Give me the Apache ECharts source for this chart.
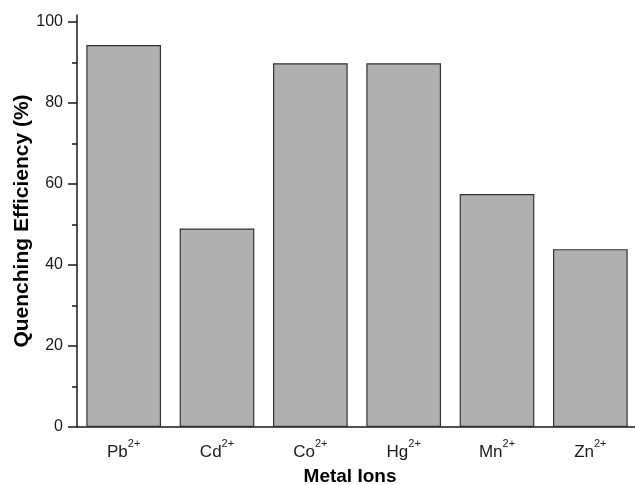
<!DOCTYPE html>
<html>
<head>
    <meta charset="utf-8" />
    <title>Quenching Efficiency</title>
    <script src="https://cdn.jsdelivr.net/npm/echarts@6.0.0/dist/echarts.min.js"></script>
</head>
<body style="margin:0;">
    <div id="main" style="width: 635px;height:485px;"></div>
    <script type="text/javascript">
        // data
        var ions = ['Pb', 'Cd', 'Co', 'Hg', 'Mn', 'Zn'];
        var charge = '2+';
        var efficiency = [94.3, 49.0, 89.8, 89.8, 57.5, 43.9];
        var majorTicks = [0, 20, 40, 60, 80, 100];
        var minorTicks = [10, 30, 50, 70, 90];

        var myChart = echarts.init(document.getElementById('main'));
        var font = 'Liberation Sans, Arial, sans-serif';
        var ink = '#1a1a1a';

        var option = {
            animation: false,
            backgroundColor: '#fff',
            grid: { left: 77, top: 15, width: 560, bottom: 58, outerBoundsMode: 'none', containLabel: false },
            xAxis: [{
                type: 'category',
                data: ions,
                name: 'Metal Ions',
                nameLocation: 'middle',
                nameGap: 40,
                nameMoveOverlap: false,
                nameTextStyle: { fontFamily: font, fontWeight: 'bold', fontSize: 19, color: '#000', padding: [0, 14, 0, 0] },
                axisLine: { lineStyle: { color: ink, width: 1.5 } },
                axisTick: { alignWithLabel: true, length: 8, lineStyle: { color: ink, width: 1.5 } },
                axisLabel: {
                    margin: 11,
                    formatter: function (v) { return '{m|' + v + '}{s|' + charge + '}'; },
                    rich: {
                        // superscript charge: main text pushed down, charge pinned to top
                        m: { fontFamily: font, fontSize: 17, color: ink, verticalAlign: 'bottom', padding: [6, 0, 0, 0] },
                        s: { fontFamily: font, fontSize: 11, lineHeight: 11, color: ink, verticalAlign: 'top' }
                    }
                }
            }, {
                type: 'category',
                data: ions,
                position: 'bottom',
                axisLine: { show: false },
                axisTick: { length: 4, lineStyle: { color: ink, width: 1.5 } },
                axisLabel: { show: false }
            }],
            yAxis: [{
                type: 'value',
                min: 0,
                max: 101.7,
                name: 'Quenching Efficiency (%)',
                nameLocation: 'middle',
                nameGap: 44,
                nameMoveOverlap: false,
                nameTextStyle: { fontFamily: font, fontWeight: 'bold', fontSize: 21, color: '#000' },
                splitLine: { show: false },
                axisLine: { show: true, lineStyle: { color: ink, width: 1.5 } },
                axisTick: { show: true, length: 9, customValues: majorTicks, lineStyle: { color: ink, width: 1.5 } },
                axisLabel: { margin: 14, customValues: majorTicks, fontFamily: font, fontSize: 16, color: ink }
            }, {
                type: 'value',
                min: 0,
                max: 101.7,
                position: 'left',
                splitLine: { show: false },
                axisLine: { show: false },
                axisTick: { show: true, length: 5, customValues: minorTicks, lineStyle: { color: ink, width: 1.5 } },
                axisLabel: { show: false }
            }],
            series: [{
                type: 'bar',
                xAxisIndex: 0,
                yAxisIndex: 0,
                data: efficiency,
                barWidth: '80%',
                itemStyle: { color: '#b0b0b0', borderColor: '#333', borderWidth: 1.2 }
            }]
        };

        myChart.setOption(option);
    </script>
</body>
</html>
